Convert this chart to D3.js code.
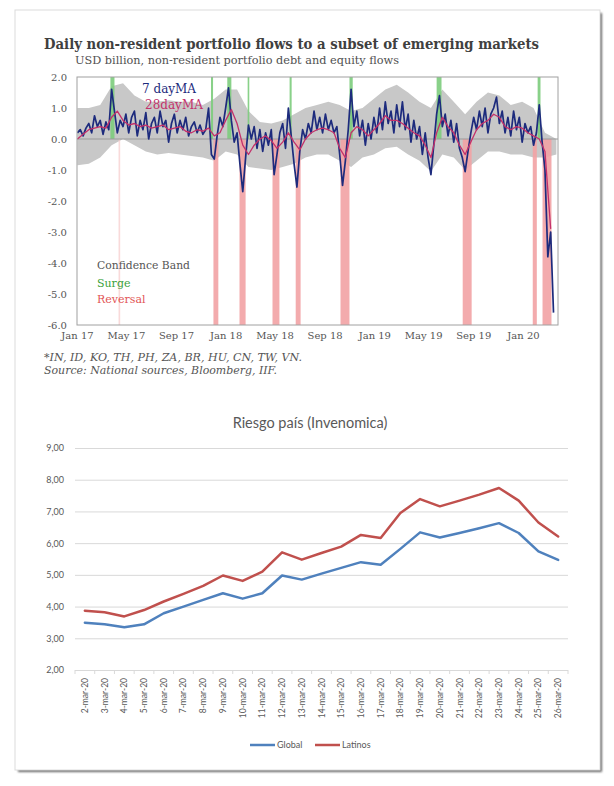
<!DOCTYPE html>
<html><head><meta charset="utf-8">
<script src="https://cdn.jsdelivr.net/npm/d3@7"></script>
<style>body{margin:0;background:#fff}</style>
</head><body>
<svg id="c" width="614" height="786"></svg>
<script>
// ---------- TOP CHART DATA ----------
const flowStart = "2017-01-02";          // first week of the weekly-read 7-day MA
const ma7 = [0.2,0.3,0.1,0.35, 0.5,0.2,0.75,0.4,0.6,0.15,0.55,0.3, 1.6,0.9,0.2,0.6,
 0.4,0.8,0.2,0.7,0.9,0.1,0.6,0.3,0.85,0.0,0.5,0.7,0.2,0.9,0.4,0.6,-0.1,0.5,0.8,0.2,0.6,0.3,0.7,0.1,0.4,0.55,0.2,0.45,0.15,0.3,
 1.0,-0.5,-0.65,0.1,0.7,0.4,1.0,1.65,0.6,-0.1,0.2,-0.8,-1.7,-0.6,0.45,0.0,0.4,-0.3,0.3,-0.4,0.2,-0.2,0.3,-1.15,-0.5,0.2,0.5,-0.3,1.0,0.1,-0.8,-1.55,-0.4,0.3,
 0.0,0.5,0.2,0.9,0.3,0.7,0.2,0.8,0.3,0.6,0.2,0.4,-0.5,-1.5,-0.7,0.3,1.6,0.4,0.9,0.1,0.6,-0.2,0.5,0.0,0.7,0.2,1.0,0.3,1.2,0.5,0.9,0.2,1.1,0.4,1.2,0.3,0.8,-0.1,0.6,0.0,
 0.4,-0.5,0.2,-0.6,-1.15,-0.2,0.8,1.4,0.4,0.8,0.1,0.6,-0.1,0.5,-0.3,-0.6,-1.05,-0.4,0.2,0.7,0.3,0.9,0.4,1.0,0.2,0.8,1.0,1.35,0.5,0.9,0.2,0.7,0.1,0.9,0.3,0.7,-0.1,0.5,0.2,0.4,
 -0.2,0.2,1.1,-0.1,-1.0,-3.8,-3.0,-5.6];
const ma28 = [0.0,0.15,0.3,0.35,0.4,0.35,0.7,0.9,0.6,0.45, 0.5,0.4,0.45,0.35,0.4,0.45,0.3,0.35,0.4,0.25,
 0.2,0.3,0.25,0.35,0.1,0.2,0.6,0.95,0.5,-0.2, -0.5,-0.2,0.0,0.1,-0.05,-0.3,-0.1,0.2,-0.1,-0.35,
 0.0,0.2,0.3,0.35,0.3,0.2,-0.3,-0.6,0.2,0.4, 0.3,0.1,0.3,0.5,0.75,0.6,0.6,0.5,0.35,0.2,
 0.1,-0.2,-0.6,0.2,0.7,0.4,0.2,-0.2,-0.5,-0.1, 0.3,0.5,0.6,0.8,0.7,0.4,0.3,0.4,0.35,0.2, 0.1,0.0,-0.4,-2.9];   // every 2 weeks
const bandUpper = [1.0,1.0,1.1,1.7,1.8,1.4,1.2,1.2,1.25,1.2, 1.2,1.1,1.3,1.6,1.6,0.9,0.55,0.5,0.6,0.8,
 1.0,1.1,1.2,1.1,0.9,1.0,1.3,1.6,1.75,1.5, 1.2,1.0,1.6,1.2,0.8,1.2,1.5,1.4,1.1,1.2, 1.0,0.2,0.0]; // every 4 weeks
const bandLower = [-0.85,-0.8,-0.6,-0.2,0.0,-0.2,-0.4,-0.5,-0.45,-0.5, -0.55,-0.6,-0.7,-0.4,-0.5,-0.9,-0.95,-1.0,-0.9,-0.8,
 -0.6,-0.5,-0.5,-0.7,-0.9,-0.6,-0.5,-0.3,-0.25,-0.5, -0.7,-1.05,-0.5,-0.6,-1.0,-0.7,-0.4,-0.4,-0.5,-0.5, -0.6,-0.6,-0.5];
const surges = [["2017-03-24","2017-04-03"],["2017-11-26","2017-12-01"],["2018-01-05","2018-01-15"],["2018-02-24","2018-02-28"],
 ["2018-06-07","2018-06-12"],["2018-11-01","2018-11-09"],["2019-06-03","2019-06-15"],["2020-02-06","2020-02-13"]];
const reversals = [["2017-12-02","2017-12-14"],["2018-02-04","2018-02-19"],["2018-04-26","2018-05-13"],["2018-06-22","2018-07-04"],
 ["2018-10-10","2018-11-01"],["2019-08-06","2019-08-28"],["2020-01-25","2020-02-04"],["2020-02-18","2020-03-11"]];
const faintReversals = [["2017-04-13","2017-04-17"]];
const topTickDates = ["2017-01-01","2017-05-01","2017-09-01","2018-01-01","2018-05-01","2018-09-01","2019-01-01","2019-05-01","2019-09-01","2020-01-01"];
const topTickLabels = ["Jan 17","May 17","Sep 17","Jan 18","May 18","Sep 18","Jan 19","May 19","Sep 19","Jan 20"];
const topYTicks = [2,1,0,-1,-2,-3,-4,-5,-6];

// ---------- BOTTOM CHART DATA ----------
const days = ["2-mar-20","3-mar-20","4-mar-20","5-mar-20","6-mar-20","7-mar-20","8-mar-20","9-mar-20","10-mar-20","11-mar-20","12-mar-20","13-mar-20","14-mar-20","15-mar-20","16-mar-20","17-mar-20","18-mar-20","19-mar-20","20-mar-20","21-mar-20","22-mar-20","23-mar-20","24-mar-20","25-mar-20","26-mar-20"];
const globalVals = [3.49,3.44,3.35,3.44,3.79,4.0,4.21,4.42,4.25,4.42,4.98,4.85,5.04,5.22,5.4,5.32,5.82,6.34,6.18,6.32,6.47,6.63,6.32,5.74,5.47];
const latinosVals = [3.87,3.82,3.69,3.89,4.16,4.4,4.65,4.98,4.81,5.1,5.71,5.48,5.69,5.89,6.26,6.16,6.95,7.39,7.16,7.34,7.53,7.74,7.34,6.65,6.21];
const bottomYTicks = [2,3,4,5,6,7,8,9];

// ---------- DRAW ----------
const svg = d3.select("#c");
const parse = d3.timeParse("%Y-%m-%d");
const defs = svg.append("defs");
defs.append("filter").attr("id","blur").append("feGaussianBlur").attr("stdDeviation",1.3);

// page frame with shadow
svg.append("rect").attr("x",18).attr("y",13).attr("width",584).attr("height",759).attr("fill","#6a6a6a").attr("filter","url(#blur)");
svg.append("rect").attr("x",15).attr("y",10).attr("width",585).attr("height",760).attr("fill","#fff").attr("stroke","#dcdcdc");

const serif = "'DejaVu Serif', 'Liberation Serif', serif";

// titles
svg.append("text").attr("x",44).attr("y",49).attr("font-family",serif).attr("font-weight","bold")
  .attr("font-size",14).attr("fill","#404040").attr("textLength",495).attr("lengthAdjust","spacingAndGlyphs")
  .text("Daily non-resident portfolio flows to a subset of emerging markets");
svg.append("text").attr("x",75).attr("y",64).attr("font-family",serif).attr("font-size",11)
  .attr("fill","#505050").attr("textLength",324).attr("lengthAdjust","spacingAndGlyphs")
  .text("USD billion, non-resident portfolio debt and equity flows");

const T = {left:77, right:558, top:77, bottom:325};
const xT = d3.scaleTime().domain([new Date(2017,0,1), new Date(2020,2,27)]).range([T.left, T.right]);
const yT = d3.scaleLinear().domain([-6,2]).range([T.bottom, T.top]);
const start = parse(flowStart);
const ma7Pts = ma7.map((v,i)=>[d3.timeDay.offset(start, 7*i), v]);
const ma28Pts = ma28.map((v,i)=>[d3.timeDay.offset(start, 14*i), v]);
const bandPts = bandUpper.map((v,i)=>({d:d3.timeDay.offset(start, 28*i), hi:v, lo:bandLower[i]}));

const gT = svg.append("g");
gT.append("defs").append("clipPath").attr("id","clipT").append("rect")
  .attr("x",T.left).attr("y",T.top).attr("width",T.right-T.left).attr("height",T.bottom-T.top);
const plotT = gT.append("g").attr("clip-path","url(#clipT)");

plotT.append("path").datum(bandPts).attr("fill","#c8c8c8")
  .attr("d", d3.area().x(d=>xT(d.d)).y0(d=>yT(d.lo)).y1(d=>yT(d.hi)));

function bars(list, y0, y1, color, op){
  plotT.selectAll(null).data(list).enter().append("rect")
    .attr("x", d=>xT(parse(d[0])))
    .attr("width", d=>Math.max(1.5, xT(parse(d[1]))-xT(parse(d[0]))))
    .attr("y", yT(y1)).attr("height", yT(y0)-yT(y1))
    .attr("fill", color).attr("opacity", op);
}
bars(surges, 0, 2, "#7ccc7c", 0.9);
bars(reversals, -6, 0, "#f2a2a4", 0.9);
bars(faintReversals, -6, 0, "#f6caca", 0.7);

plotT.append("line").attr("x1",T.left).attr("x2",T.right).attr("y1",yT(0)).attr("y2",yT(0))
  .attr("stroke","#9a9a9a").attr("stroke-width",1);

plotT.append("path").datum(ma7Pts).attr("fill","none").attr("stroke","#1d2b7d").attr("stroke-width",1.7)
  .attr("stroke-linejoin","round").attr("d", d3.line().x(d=>xT(d[0])).y(d=>yT(d[1])));
plotT.append("path").datum(ma28Pts).attr("fill","none").attr("stroke","#c4306a").attr("stroke-width",1.3)
  .attr("stroke-linejoin","round").attr("d", d3.line().x(d=>xT(d[0])).y(d=>yT(d[1])));

gT.append("rect").attr("x",T.left).attr("y",T.top).attr("width",T.right-T.left).attr("height",T.bottom-T.top)
  .attr("fill","none").attr("stroke","#a0a0a0").attr("stroke-width",1);

// axes top
const yAxT = gT.append("g").attr("transform",`translate(${T.left-7},0)`)
  .call(d3.axisLeft(yT).tickValues(topYTicks).tickSize(0).tickFormat(d=>d3.format(".1f")(d).replace("−","-")));
yAxT.select(".domain").remove();
yAxT.selectAll("text").attr("font-family",serif).attr("font-size",10).attr("fill","#555");

const xAxT = gT.append("g").attr("transform",`translate(0,${T.bottom+4})`)
  .call(d3.axisBottom(xT).tickValues(topTickDates.map(parse)).tickSize(0).tickFormat((d,i)=>topTickLabels[i]));
xAxT.select(".domain").remove();
xAxT.selectAll("text").attr("font-family",serif).attr("font-size",10).attr("fill","#555");

// in-plot labels
gT.append("text").attr("x",142).attr("y",93).attr("font-family",serif).attr("font-size",12).attr("fill","#1d2b7d").text("7 dayMA");
gT.append("text").attr("x",145).attr("y",109).attr("font-family",serif).attr("font-size",12).attr("fill","#c4306a").text("28dayMA");
gT.append("text").attr("x",97).attr("y",269).attr("font-family",serif).attr("font-size",11).attr("fill","#555")
  .attr("textLength",93).attr("lengthAdjust","spacingAndGlyphs").text("Confidence Band");
gT.append("text").attr("x",97).attr("y",287).attr("font-family",serif).attr("font-size",11).attr("fill","#3aa23a").text("Surge");
gT.append("text").attr("x",97).attr("y",303).attr("font-family",serif).attr("font-size",11).attr("fill","#e25555").text("Reversal");

// footnotes
svg.append("text").attr("x",44).attr("y",361).attr("font-family",serif).attr("font-style","italic").attr("font-size",10.5)
  .attr("fill","#555").attr("textLength",258).attr("lengthAdjust","spacingAndGlyphs").text("*IN, ID, KO, TH, PH, ZA, BR, HU, CN, TW, VN.");
svg.append("text").attr("x",44).attr("y",374).attr("font-family",serif).attr("font-style","italic").attr("font-size",10.5)
  .attr("fill","#555").attr("textLength",233).attr("lengthAdjust","spacingAndGlyphs").text("Source: National sources, Bloomberg, IIF.");

// ---------- BOTTOM CHART ----------
const sans = "Lato, 'Open Sans', sans-serif";
const B = {left:75, right:568, top:448, bottom:670};
const xB = d3.scalePoint().domain(days).range([B.left, B.right]).padding(0.5);
const yB = d3.scaleLinear().domain([2,9]).range([B.bottom, B.top]);
const gB = svg.append("g");

svg.append("text").attr("x",310).attr("y",428).attr("text-anchor","middle").attr("font-family",sans)
  .attr("font-size",14.5).attr("fill","#595959").text("Riesgo país (Invenomica)");

const yAxB = gB.append("g").attr("transform",`translate(${B.left},0)`)
  .call(d3.axisLeft(yB).tickValues(bottomYTicks).tickSize(-(B.right-B.left)).tickPadding(11)
  .tickFormat(d=>d3.format(".2f")(d).replace(".",",")));
yAxB.select(".domain").remove();
yAxB.selectAll("line").attr("stroke","#d9d9d9").attr("stroke-width",1);
yAxB.selectAll("text").attr("font-family",sans).attr("font-size",9).attr("fill","#595959");

// x axis ticks between categories
const step = xB.step();
gB.selectAll(null).data(d3.range(days.length+1)).enter().append("line")
  .attr("x1",i=>B.left+i*step).attr("x2",i=>B.left+i*step).attr("y1",B.bottom).attr("y2",B.bottom+4)
  .attr("stroke","#d9d9d9");
gB.selectAll(null).data(days).enter().append("text")
  .attr("transform",d=>`translate(${xB(d)+3},${B.bottom+8}) rotate(-90)`)
  .attr("text-anchor","end").attr("font-family",sans).attr("font-size",8.5).attr("fill","#595959").text(d=>d);

const lineB = d3.line().x((d,i)=>xB(days[i])).y(d=>yB(d));
gB.append("path").datum(globalVals).attr("fill","none").attr("stroke","#4f81bd").attr("stroke-width",2.5)
  .attr("stroke-linejoin","round").attr("stroke-linecap","round").attr("d",lineB);
gB.append("path").datum(latinosVals).attr("fill","none").attr("stroke","#c0504d").attr("stroke-width",2.5)
  .attr("stroke-linejoin","round").attr("stroke-linecap","round").attr("d",lineB);

// legend
const leg = [["Global","#4f81bd",250],["Latinos","#c0504d",315]];
leg.forEach(([name,col,x])=>{
  gB.append("line").attr("x1",x).attr("x2",x+25).attr("y1",745).attr("y2",745).attr("stroke",col).attr("stroke-width",2.5);
  gB.append("text").attr("x",x+27).attr("y",748).attr("font-family",sans).attr("font-size",9).attr("fill","#595959").text(name);
});
</script>
</body></html>
